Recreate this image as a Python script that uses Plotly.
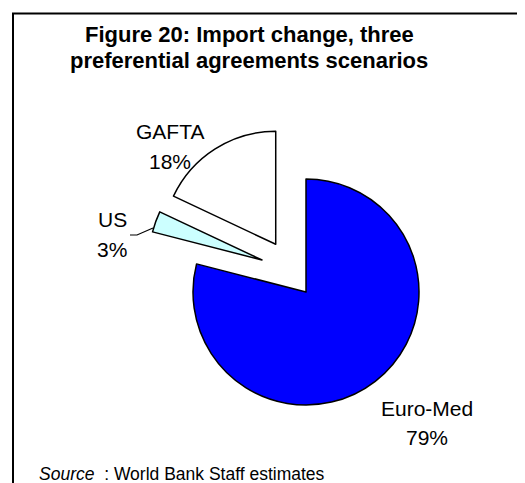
import plotly.graph_objects as go

# ---- data ----
categories = ["Euro-Med", "US", "GAFTA"]
values = [79, 3, 18]
colors = ["#0000FF", "#CCFFFF", "#FFFFFF"]
pulls = [0, 0, 0.5]
title_lines = ["Figure 20: Import change, three", "preferential agreements scenarios"]
source_text = "<i>Source</i>  : World Bank Staff estimates"

# the page has an 8px body margin, so the figure fills the rest of the window
OFF = 8
W, H = 525 - OFF, 483 - OFF
total = sum(values)
pcts = [f"{round(v / total * 100)}%" for v in values]

def px(x):
    return (x - OFF) / W

def py(y):
    return 1 - (y - OFF) / H

FONT = "Liberation Sans, Arial"
CLEAR = "rgba(0,0,0,0)"
R = 113

fig = go.Figure()
# main pie: Euro-Med and the exploded GAFTA slice
R_OUT = R * (1 + max(pulls))
fig.add_trace(go.Pie(
    labels=categories,
    values=values,
    sort=False,
    direction="clockwise",
    rotation=0,
    pull=pulls,
    textinfo="none",
    hoverinfo="label+percent",
    marker=dict(colors=[c if n != "US" else CLEAR for n, c in zip(categories, colors)],
                line=dict(color="black", width=[0 if n == "US" else 1.5 for n in categories])),
    domain=dict(x=[px(306 - R_OUT), px(306 + R_OUT)], y=[py(292 + R_OUT), py(292 - R_OUT)]),
    showlegend=False,
))
# exploded US slice, drawn as its own pie whose centre sits at the slice tip
US_TIP = (262, 260)
fig.add_trace(go.Pie(
    labels=categories,
    values=values,
    sort=False,
    direction="clockwise",
    rotation=0,
    textinfo="none",
    hoverinfo="label+percent",
    marker=dict(colors=[c if n == "US" else CLEAR for n, c in zip(categories, colors)],
                line=dict(color="black", width=[1.5 if n == "US" else 0 for n in categories])),
    domain=dict(x=[px(US_TIP[0] - R), px(US_TIP[0] + R)], y=[py(US_TIP[1] + R), py(US_TIP[1] - R)]),
    showlegend=False,
))

annotations = []
# title
for i, line in enumerate(title_lines):
    annotations.append(dict(
        text=f"<b>{line}</b>", x=px(249), y=py(34.5 + 26.5 * i), xref="paper", yref="paper",
        xanchor="center", yanchor="middle", showarrow=False,
        font=dict(family=FONT, size=22, color="black")))

# slice labels (name + percent)
label_pos = {"Euro-Med": (427, 408.5, 437), "US": (112, 219.5, 249.5), "GAFTA": (170, 131.5, 161.5)}
for name, pct in zip(categories, pcts):
    cx, y1, y2 = label_pos[name]
    for txt, yy in ((name, y1), (pct, y2)):
        annotations.append(dict(
            text=txt, x=px(cx), y=py(yy), xref="paper", yref="paper",
            xanchor="center", yanchor="middle", showarrow=False,
            font=dict(family=FONT, size=21, color="black")))

annotations.append(dict(
    text=source_text, x=px(37), y=py(474), xref="paper", yref="paper",
    xanchor="left", yanchor="middle", showarrow=False,
    font=dict(family=FONT, size=17.5, color="black")))

shapes = [
    # chart frame
    dict(type="rect", xref="paper", yref="paper", x0=px(13), y0=-0.05, x1=1.05, y1=py(13.5),
         line=dict(color="black", width=2), fillcolor=CLEAR, layer="below"),
    # US leader line
    dict(type="path", xref="paper", yref="paper",
         path=f"M {px(130)},{py(235)} L {px(137)},{py(235)} L {px(153)},{py(228)}",
         line=dict(color="black", width=1.2)),
]

fig.update_layout(
    width=W, height=H,
    margin=dict(l=0, r=0, t=0, b=0),
    paper_bgcolor="white", plot_bgcolor="white",
    annotations=annotations,
    shapes=shapes,
)

fig.write_html("out.html")
